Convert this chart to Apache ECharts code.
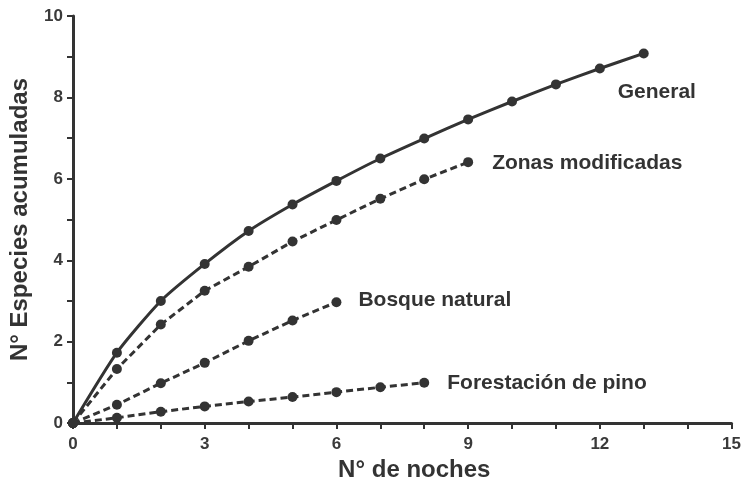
<!DOCTYPE html>
<html>
<head>
<meta charset="utf-8">
<script src="https://cdn.jsdelivr.net/npm/echarts@6/dist/echarts.min.js"></script>
<style>
  html, body { margin: 0; padding: 0; background: #fff; }
  #main { width: 744px; height: 487px; }
</style>
</head>
<body>
<div id="main"></div>
<script>
// datos
const noches = [0, 1, 2, 3, 4, 5, 6, 7, 8, 9, 10, 11, 12, 13]
const general = [0, 1.73, 3.0, 3.91, 4.72, 5.37, 5.95, 6.5, 6.99, 7.46, 7.9, 8.32, 8.71, 9.08]
const zonasModificadas = [0, 1.33, 2.42, 3.25, 3.84, 4.46, 4.99, 5.51, 5.99, 6.41]
const bosqueNatural = [0, 0.45, 0.98, 1.48, 2.02, 2.52, 2.97]
const forestacionPino = [0, 0.13, 0.28, 0.41, 0.53, 0.64, 0.76, 0.88, 0.99]

const xTicks = [0, 3, 6, 9, 12, 15]
const yTicks = [0, 2, 4, 6, 8, 10]

const ink = '#333333'
const font = '"Liberation Sans", Arial, sans-serif'

function pares(vals) {
  return vals.map((v, i) => [noches[i], v])
}

function serie(nombre, vals, dashed, labelOffset) {
  return {
    name: nombre,
    type: 'line',
    data: pares(vals),
    symbol: 'circle',
    symbolSize: 10,
    smooth: dashed ? false : 0.2,
    itemStyle: { color: ink },
    lineStyle: { color: ink, width: 3, type: dashed ? [7, 4] : 'solid' },
    endLabel: {
      show: true,
      formatter: nombre,
      distance: 5,
      offset: labelOffset,
      color: ink,
      fontFamily: font,
      fontWeight: 'bold',
      fontSize: 21
    },
    z: 2
  }
}

const chart = echarts.init(document.getElementById('main'), null, { renderer: 'canvas' })

chart.setOption({
  animation: false,
  backgroundColor: '#ffffff',
  grid: { left: 73, right: 9, top: 16, bottom: 60 },
  xAxis: {
    type: 'value',
    min: 0,
    max: 15,
    interval: 3,
    name: 'N° de noches',
    nameLocation: 'middle',
    nameGap: 32,
    nameTextStyle: { color: ink, fontFamily: font, fontWeight: 'bold', fontSize: 24, padding: [0, 0, 0, 24] },
    axisLine: { lineStyle: { color: ink, width: 3 } },
    axisTick: { show: true, length: 6, lineStyle: { color: ink, width: 2 } },
    minorTick: { show: true, splitNumber: 3, length: 6, lineStyle: { color: ink, width: 2 } },
    splitLine: { show: false },
    axisLabel: {
      color: '#3a3a3a', fontFamily: font, fontWeight: 'bold', fontSize: 17, margin: 13,
      formatter: v => xTicks.includes(v) ? String(v) : ''
    }
  },
  yAxis: {
    type: 'value',
    min: 0,
    max: 10,
    interval: 2,
    name: 'N° Especies acumuladas',
    nameLocation: 'middle',
    nameGap: 41,
    nameTextStyle: { color: ink, fontFamily: font, fontWeight: 'bold', fontSize: 24 },
    axisLine: { show: true, lineStyle: { color: ink, width: 3 } },
    axisTick: { show: true, length: 6, lineStyle: { color: ink, width: 2 } },
    minorTick: { show: true, splitNumber: 2, length: 6, lineStyle: { color: ink, width: 2 } },
    splitLine: { show: false },
    axisLabel: {
      color: '#3a3a3a', fontFamily: font, fontWeight: 'bold', fontSize: 17, margin: 10,
      formatter: v => yTicks.includes(v) ? String(v) : ''
    }
  },
  series: [
    serie('General', general, false, [-31, 39]),
    serie('Zonas modificadas', zonasModificadas, true, [19, 1]),
    serie('Bosque natural', bosqueNatural, true, [17, -2]),
    serie('Forestación de pino', forestacionPino, true, [18, 0])
  ]
})
</script>
</body>
</html>
